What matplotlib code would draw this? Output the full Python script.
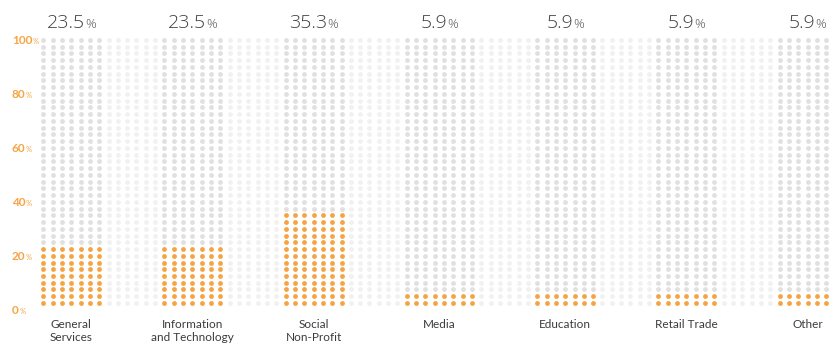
import matplotlib
matplotlib.use("Agg")
import matplotlib.pyplot as plt
from matplotlib import transforms
from matplotlib.transforms import offset_copy

# ---------------- data ----------------
categories = ["General\nServices", "Information\nand Technology", "Social\nNon-Profit",
              "Media", "Education", "Retail Trade", "Other"]
values = [23.5, 23.5, 35.3, 5.9, 5.9, 5.9, 5.9]
value_labels = ["23.5", "23.5", "35.3", "5.9", "5.9", "5.9", "5.9"]
y_ticks = [0, 20, 40, 60, 80, 100]
y_tick_labels = ["0", "20", "40", "60", "80", "100"]

# ---------------- layout ----------------
STEP = 2.5          # percent represented by one dot row
N_ROWS = 40
col_start = [0, 13, 26, 39, 53, 66, 79]
col_width = [7, 7, 7, 8, 7, 7, 7]
TOTAL_COLS = 86

ORANGE = "#F6A443"
DARK_DOT = "#E0E0E0"
LIGHT_DOT = "#F1F1F1"
TEXT = "#3c3c3c"
TOP_TEXT = "#3f3f3f"
FONT = ["Lato", "DejaVu Sans"]
TOP_FONT = ["Open Sans", "Lato", "DejaVu Sans"]

W, H, DPI = 831, 345, 100
fig = plt.figure(figsize=(W / DPI, H / DPI), dpi=DPI)
fig.patch.set_facecolor("white")

left_px, top_px, bottom_px = 38.6, 40.0, 309.7
ax = fig.add_axes([left_px / W, (H - bottom_px) / H, (W - left_px) / W, (bottom_px - top_px) / H])
ax.set_xlim(-0.5, (W - 43.3) / 9.32)
ax.set_ylim(0, 100)
ax.axis("off")

# column ownership
owner = {}
for i, (s, w) in enumerate(zip(col_start, col_width)):
    for c in range(s, s + w):
        owner[c] = i

xs_o, ys_o, xs_d, ys_d, xs_l, ys_l = [], [], [], [], [], []
for c in range(TOTAL_COLS):
    for k in range(1, N_ROWS + 1):
        y = k * STEP
        if c in owner:
            n_full = int(values[owner[c]] // STEP)
            if k <= n_full:
                xs_o.append(c); ys_o.append(y)
            else:
                xs_d.append(c); ys_d.append(y)
        else:
            xs_l.append(c); ys_l.append(y)

S = 12
ax.scatter(xs_l, ys_l, s=S, color=LIGHT_DOT, linewidths=0, clip_on=False)
ax.scatter(xs_d, ys_d, s=S, color=DARK_DOT, linewidths=0, clip_on=False)
ax.scatter(xs_o, ys_o, s=S, color=ORANGE, linewidths=0, clip_on=False)

fig.canvas.draw()
renderer = fig.canvas.get_renderer()


def text_width(t):
    return t.get_window_extent(renderer=renderer).width


# ---------------- y tick labels ----------------
ytrans = transforms.blended_transform_factory(fig.transFigure, ax.transData)
for v, lab in zip(y_ticks, y_tick_labels):
    tr = offset_copy(ytrans, fig=fig, x=0, y=-4.5, units="dots")
    t = fig.text(12 / W, v, lab, transform=tr, color=ORANGE, fontsize=8.5,
                 fontweight="bold", family=FONT, ha="left", va="baseline")
    wd = text_width(t)
    tr2 = offset_copy(ytrans, fig=fig, x=wd + 0.5, y=-4.5, units="dots")
    fig.text(12 / W, v, "%", transform=tr2, color=ORANGE, fontsize=5.5,
             family=FONT, ha="left", va="baseline")

# ---------------- top value labels ----------------
xtrans = transforms.blended_transform_factory(ax.transData, fig.transFigure)
for s, w, lab in zip(col_start, col_width, value_labels):
    cx = s + (w - 1) / 2
    yb = 1 - 28 / H
    t = fig.text(cx, yb, lab, transform=xtrans, color=TOP_TEXT, fontsize=14,
                 fontweight="light", family=TOP_FONT, ha="left", va="baseline")
    p = fig.text(cx, yb, "%", transform=xtrans, color="#555555", fontsize=9.5,
                 fontweight="light", family=TOP_FONT, ha="left", va="baseline")
    wn, wp = text_width(t), text_width(p)
    tot = wn + wp + 0.5
    t.set_transform(offset_copy(xtrans, fig=fig, x=-tot / 2, y=0, units="dots"))
    p.set_transform(offset_copy(xtrans, fig=fig, x=-tot / 2 + wn + 0.5, y=0, units="dots"))

# ---------------- category labels ----------------
for s, w, name in zip(col_start, col_width, categories):
    cx = s + (w - 1) / 2
    fig.text(cx, 1 - 319 / H, name, transform=xtrans, color=TEXT, fontsize=8.5,
             family=FONT, ha="center", va="top", linespacing=1.2)

fig.savefig("out.png", dpi=DPI, facecolor="white")
